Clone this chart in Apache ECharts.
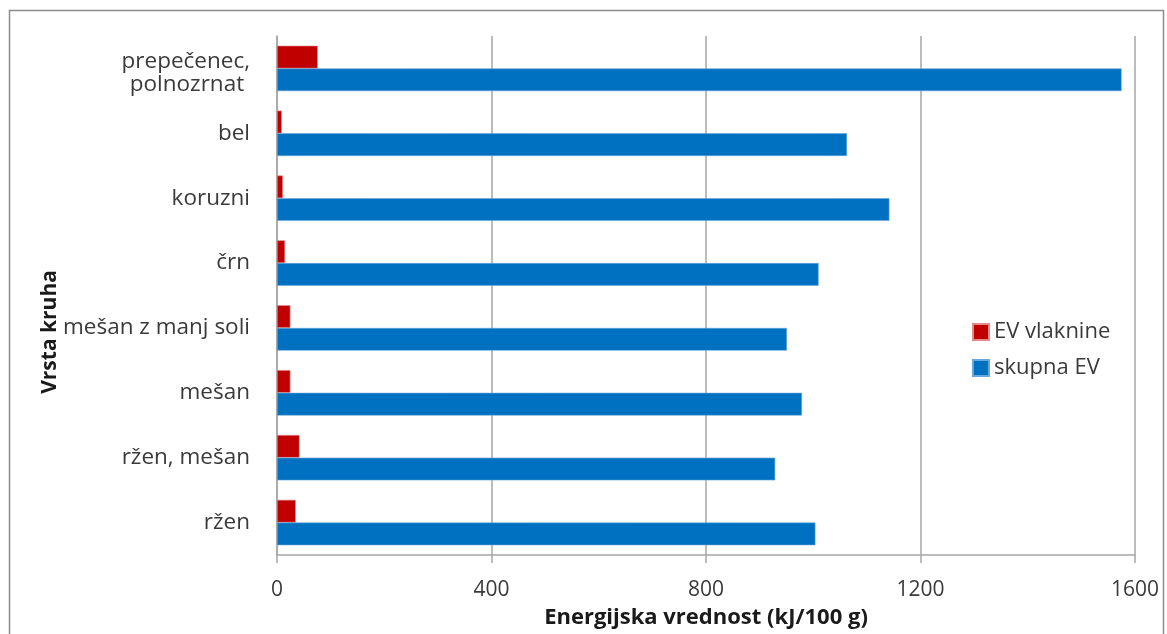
<!DOCTYPE html>
<html>
<head>
<meta charset="utf-8">
<script src="https://cdn.jsdelivr.net/npm/echarts@6/dist/echarts.min.js"></script>
<style>
  html, body { margin: 0; padding: 0; background: #ffffff; }
  #chart { width: 1167px; height: 634px; }
</style>
</head>
<body>
<div id="chart"></div>
<script>
// Bread types, listed bottom to top along the category axis
const categories = [
  'ržen',
  'ržen, mešan',
  'mešan',
  'mešan z manj soli',
  'črn',
  'koruzni',
  'bel',
  'prepečenec,\npolnozrnat '
];

// Energy value of fibre (kJ/100 g)
const evVlaknine = [35, 42, 25, 25, 15, 11, 9, 76];

// Total energy value (kJ/100 g)
const skupnaEV = [1004, 929, 979, 951, 1010, 1142, 1063, 1575];

const seriesNames = ['EV vlaknine', 'skupna EV'];
const xTicks = { min: 0, max: 1600, interval: 400 };

const font = "'Open Sans', 'DejaVu Sans', sans-serif";
const textColor = '#3a3a3a';
const labelSize = 22.5;

const chart = echarts.init(document.getElementById('chart'), null, { renderer: 'canvas' });

// Two-line category names are set as rich text, nudged slightly down
function categoryLabel(value) {
  if (value.indexOf('\n') < 0) return value;
  return '{s| }\n' + value.split('\n').map(t => '{a|' + t + '}').join('\n');
}

chart.setOption({
  animation: false,
  backgroundColor: '#ffffff',
  textStyle: { fontFamily: font },
  graphic: [
    {
      type: 'rect',
      shape: { x: 9.5, y: 10.5, width: 1154, height: 640 },
      style: { fill: 'none', stroke: '#8c8c8c', lineWidth: 1.5 },
      silent: true,
      z: -1
    },
    {
      // Category axis title
      type: 'text',
      x: 50,
      y: 332,
      rotation: Math.PI / 2,
      style: {
        text: 'Vrsta kruha',
        fontFamily: font,
        fontSize: 21,
        fontWeight: 'bold',
        fill: '#1a1a1a',
        align: 'center',
        verticalAlign: 'middle'
      },
      silent: true
    }
  ],
  legend: {
    orient: 'vertical',
    left: 967,
    top: 316,
    itemWidth: 16,
    itemHeight: 16,
    itemGap: 14,
    icon: 'rect',
    textStyle: { fontFamily: font, fontSize: 22, color: textColor },
    data: seriesNames
  },
  grid: { left: 277, right: 32, top: 36, bottom: 75, containLabel: false },
  xAxis: {
    type: 'value',
    min: xTicks.min,
    max: xTicks.max,
    interval: xTicks.interval,
    name: 'Energijska vrednost (kJ/100 g)',
    nameLocation: 'middle',
    nameGap: 52,
    nameTextStyle: { fontFamily: font, fontSize: 22, fontWeight: 'bold', color: '#1a1a1a' },
    axisLine: { show: true, lineStyle: { color: '#a6a6a6', width: 1.5 } },
    axisTick: { show: true, length: 8, lineStyle: { color: '#a6a6a6', width: 1.5 } },
    axisLabel: { fontFamily: font, fontSize: 21, color: textColor, margin: 25, formatter: v => String(v) },
    splitLine: { show: true, lineStyle: { color: '#a6a6a6', width: 1.5 } }
  },
  yAxis: {
    type: 'category',
    data: categories,
    axisLine: { show: true, lineStyle: { color: '#a6a6a6', width: 1.5 } },
    axisTick: { show: false },
    axisLabel: {
      fontFamily: font,
      fontSize: labelSize,
      color: textColor,
      margin: 27,
      formatter: categoryLabel,
      rich: {
        s: { fontSize: 6, lineHeight: 10 },
        a: { fontFamily: font, fontSize: labelSize, lineHeight: 23, color: textColor }
      }
    },
    splitLine: { show: false }
  },
  series: [
    {
      name: seriesNames[0],
      type: 'bar',
      data: evVlaknine,
      barGap: '0%',
      barCategoryGap: '30%',
      itemStyle: { color: '#c00000', borderColor: '#e38a8a', borderWidth: 0.6 }
    },
    {
      name: seriesNames[1],
      type: 'bar',
      data: skupnaEV,
      barGap: '0%',
      barCategoryGap: '30%',
      itemStyle: { color: '#0070c0', borderColor: '#6aa8dc', borderWidth: 0.6 }
    }
  ]
});
</script>
</body>
</html>
